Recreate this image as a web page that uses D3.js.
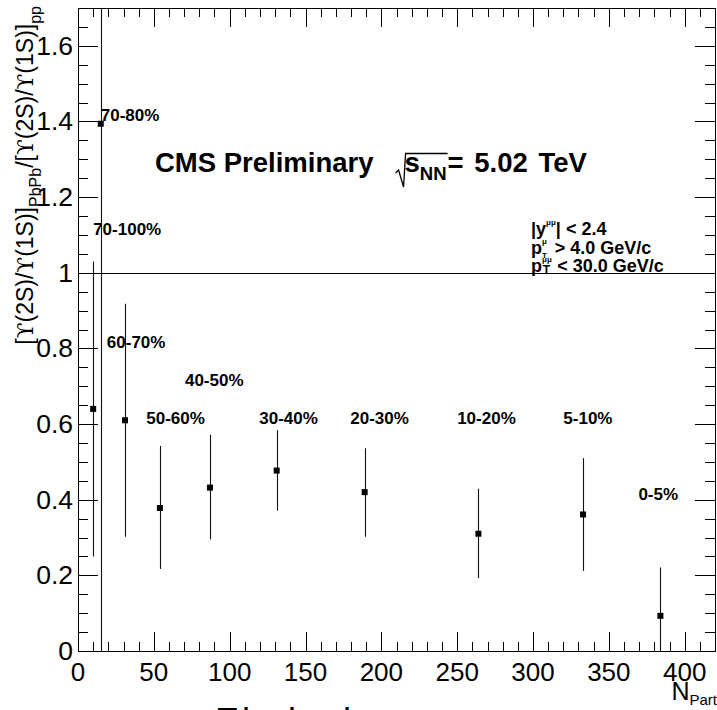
<!DOCTYPE html>
<html>
<head>
    <meta charset="utf-8">
    <script src="https://d3js.org/d3.v7.min.js"></script>
    <style>
        body { margin: 0; background: #fff; }
        text { font-family: "Liberation Sans", Arial, Helvetica, sans-serif; }
    </style>
</head>
<body>
    <div id="cont"></div>

    <script>
        // centrality bins, N_part and the double ratio
        var centrality = ["70-100%", "70-80%", "60-70%", "50-60%", "40-50%", "30-40%", "20-30%", "10-20%", "5-10%", "0-5%"];
        var nPart = [10, 15, 31, 54, 87, 131, 189, 264, 333, 384];
        var ratio = [0.64, 1.394, 0.61, 0.378, 0.432, 0.477, 0.420, 0.310, 0.361, 0.093];
        var errUp = [0.39, 1.45, 0.308, 0.164, 0.140, 0.107, 0.116, 0.119, 0.149, 0.128];
        var errDown = [0.39, 1.45, 0.308, 0.161, 0.137, 0.106, 0.118, 0.117, 0.149, 0.128];
        // where each centrality label sits (left edge, baseline) in data units
        var labelN = [10, 15, 19, 45, 70.5, 119.5, 179.5, 250, 320, 369.5];
        var labelR = [1.10, 1.40, 0.80, 0.60, 0.70, 0.60, 0.60, 0.60, 0.60, 0.40];

        var xMajor = [0, 50, 100, 150, 200, 250, 300, 350, 400];
        var yMajor = [0, 0.2, 0.4, 0.6, 0.8, 1, 1.2, 1.4, 1.6];

        var W = 717, H = 710;
        var fLeft = 78, fRight = 715, fTop = 8, fBottom = 651;

        var svg = d3.select("#cont").append("svg")
            .attr("width", W)
            .attr("height", H);

        var x = d3.scaleLinear().domain([0, 420]).range([fLeft, fRight]);
        var y = d3.scaleLinear().domain([0, 1.7]).range([fBottom, fTop]);

        svg.append("clipPath").attr("id", "frame")
            .append("rect")
            .attr("x", fLeft).attr("y", fTop)
            .attr("width", fRight - fLeft).attr("height", fBottom - fTop);

        // ticks on all four sides, pointing inward
        var xMinor = d3.range(0, 421, 10).filter(function(v) { return v % 50 != 0; });
        var yMinor = d3.range(0, 171, 5).map(function(v) { return v / 100; })
            .filter(function(v) { return Math.round(v * 100) % 20 != 0; });

        var ticks = svg.append("g").attr("stroke", "#000").attr("stroke-width", 1);
        var addX = function(vals, len) {
            vals.forEach(function(v) {
                var px = Math.round(x(v)) + 0.5;
                ticks.append("line").attr("x1", px).attr("x2", px).attr("y1", fBottom).attr("y2", fBottom - len);
                ticks.append("line").attr("x1", px).attr("x2", px).attr("y1", fTop).attr("y2", fTop + len);
            });
        };
        var addY = function(vals, len) {
            vals.forEach(function(v) {
                var py = Math.round(y(v)) + 0.5;
                ticks.append("line").attr("x1", fLeft).attr("x2", fLeft + len).attr("y1", py).attr("y2", py);
                ticks.append("line").attr("x1", fRight).attr("x2", fRight - len).attr("y1", py).attr("y2", py);
            });
        };
        addX(xMajor, 19);
        addX(xMinor, 9);
        addY(yMajor, 20);
        addY(yMinor, 10);

        svg.append("rect")
            .attr("x", fLeft + 0.5).attr("y", fTop + 0.5)
            .attr("width", fRight - fLeft).attr("height", fBottom - fTop)
            .attr("fill", "none").attr("stroke", "#000").attr("stroke-width", 1);

        // tick labels
        svg.append("g").selectAll("text").data(xMajor).enter().append("text")
            .attr("x", function(d) { return x(d); })
            .attr("y", 681)
            .attr("text-anchor", "middle")
            .attr("font-size", 26)
            .text(function(d) { return d; });

        svg.append("g").selectAll("text").data(yMajor).enter().append("text")
            .attr("x", 73)
            .attr("y", function(d) { return y(d) + 9; })
            .attr("text-anchor", "end")
            .attr("font-size", 26.5)
            .text(function(d) { return String(+d.toFixed(1)); });

        // axis titles
        var xt = svg.append("text").attr("x", 717).attr("y", 700).attr("text-anchor", "end").attr("font-size", 25);
        xt.append("tspan").text("N");
        xt.append("tspan").attr("font-size", 15).attr("dy", 5).text("Part");

        var ups = "\u03D2";
        var yt = svg.append("text")
            .attr("transform", "translate(33,6) rotate(-90)")
            .attr("text-anchor", "end")
            .attr("font-size", 23);
        var part = function(t, serif) {
            var s = yt.append("tspan").text(t);
            if (serif) s.attr("font-family", "DejaVu Serif");
            return s;
        };
        var ratioPart = function() {
            part("[");
            part(ups, true);
            part("(2S)/");
            part(ups, true);
            part("(1S)]");
        };
        ratioPart();
        yt.append("tspan").attr("font-size", 16).attr("dy", 8).text("PbPb");
        yt.append("tspan").attr("dy", -8).text("/");
        ratioPart();
        yt.append("tspan").attr("font-size", 16).attr("dy", 8).text("pp");

        // reference line at unity
        svg.append("line")
            .attr("x1", fLeft).attr("x2", fRight)
            .attr("y1", Math.round(y(1)) + 0.5).attr("y2", Math.round(y(1)) + 0.5)
            .attr("stroke", "#000").attr("stroke-width", 1);

        // points with error bars
        var pts = svg.append("g").attr("clip-path", "url(#frame)");
        nPart.forEach(function(n, i) {
            var px = Math.round(x(n)) + 0.5;
            pts.append("line")
                .attr("x1", px).attr("x2", px)
                .attr("y1", y(ratio[i] + errUp[i]))
                .attr("y2", y(ratio[i] - errDown[i]))
                .attr("stroke", "#111").attr("stroke-width", 1.1);
            pts.append("rect")
                .attr("x", x(n) - 3).attr("y", y(ratio[i]) - 3)
                .attr("width", 6).attr("height", 6)
                .attr("fill", "#000");
        });

        svg.append("g").selectAll("text").data(centrality).enter().append("text")
            .attr("x", function(d, i) { return x(labelN[i]); })
            .attr("y", function(d, i) { return y(labelR[i]); })
            .attr("font-size", 17)
            .attr("font-weight", "bold")
            .text(function(d) { return d; });

        // CMS header
        var hdr = svg.append("g").attr("font-weight", "bold");
        var t1 = hdr.append("text").attr("x", 155).attr("y", 172).attr("font-size", 27.5).text("CMS Preliminary");
        var sx = 155 + t1.node().getComputedTextLength() + 22;
        var sTxt = hdr.append("text").attr("x", sx + 9).attr("y", 172).attr("font-size", 27.5);
        sTxt.append("tspan").text("s");
        sTxt.append("tspan").attr("font-size", 18.5).attr("dy", 8).text("NN");
        var sEnd = sx + 9 + sTxt.node().getComputedTextLength();
        hdr.append("path")
            .attr("d", "M" + sx + ",173 L" + (sx + 3) + ",170 L" + (sx + 8) + ",187 L" + (sx + 10) + ",153.5 L" + (sEnd + 1) + ",153.5")
            .attr("fill", "none").attr("stroke", "#000").attr("stroke-width", 1.3);
        hdr.append("text").attr("x", sEnd + 1).attr("y", 172).attr("font-size", 27.5)
            .attr("word-spacing", 3).text("= 5.02 TeV");

        // kinematic cuts
        var cuts = svg.append("g").attr("font-weight", "bold").attr("font-size", 18);
        var c1 = cuts.append("text").attr("x", 531).attr("y", 235);
        c1.append("tspan").text("|y");
        c1.append("tspan").attr("font-size", 8).attr("dy", -10).text("\u03BC\u03BC");
        c1.append("tspan").attr("dy", 10).text("| < 2.4");
        var c2 = cuts.append("text").attr("x", 531).attr("y", 254);
        c2.append("tspan").text("p");
        c2.append("tspan").attr("font-size", 8).attr("dy", -10).text("\u03BC");
        c2.append("tspan").attr("font-size", 8).attr("dx", -5).attr("dy", 14).text("T");
        c2.append("tspan").attr("dx", 3).attr("dy", -4).text(" > 4.0 GeV/c");
        var c3 = cuts.append("text").attr("x", 531).attr("y", 272);
        c3.append("tspan").text("p");
        c3.append("tspan").attr("font-size", 8).attr("dy", -10).text("\u03BC\u03BC");
        c3.append("tspan").attr("font-size", 12).attr("dx", -9).attr("dy", 12).text("T");
        c3.append("tspan").attr("dx", 2).attr("dy", -2).text(" < 30.0 GeV/c");

        // text cut off by the bottom edge of the image
        svg.append("text").attr("x", 215).attr("y", 734).attr("font-size", 36).attr("letter-spacing", 3).text("Ebelecberg");
    </script>
</body>
</html>
